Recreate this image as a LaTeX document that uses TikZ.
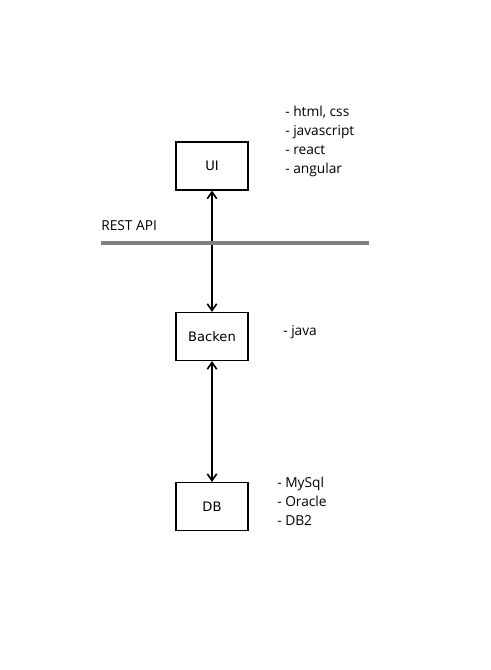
\documentclass[tikz,border=0pt]{standalone}
\usepackage{fontspec}
\setmainfont{Open Sans}
\newfontfamily\boxfont{DejaVu Sans}
\usetikzlibrary{arrows.meta}
\begin{document}
\begin{tikzpicture}[x=0.75pt,y=-0.75pt,
  comp/.style={draw,line width=0.9pt,minimum width=72*0.75pt,minimum height=48*0.75pt,inner sep=0pt,font=\boxfont\fontsize{9.8}{12}\selectfont},
  lst/.style={anchor=north west,align=left,inner sep=0pt,font=\fontsize{10.3}{14.25}\selectfont},
  link/.style={line width=0.9pt,{Straight Barb[length=5pt,width=7pt,line width=1.2pt]}-{Straight Barb[length=5pt,width=7pt,line width=1.2pt]}}]
\useasboundingbox (0,0) rectangle (491,670);
\node[comp] (ui) at (212,166) {UI};
\node[comp] (be) at (212,336.5) {Backen};
\node[comp] (db) at (212,506.5) {DB};
\draw[link] (ui) -- (be);
\draw[link] (be) -- (db);
\coordinate (rl) at (101,243);
\coordinate (rr) at (369,243);
\draw[line width=2.4pt,color=black!50] (rl) -- (rr);
\node[lst,anchor=south west] (rest) at (101,231) {REST API};
\node[lst] (uil) at (285,106) {- html, css\\- javascript\\- react\\- angular};
\node[lst] (bel) at (283,325) {- java};
\node[lst] (dbl) at (277,477) {- MySql\\- Oracle\\- DB2};
\end{tikzpicture}
\end{document}
